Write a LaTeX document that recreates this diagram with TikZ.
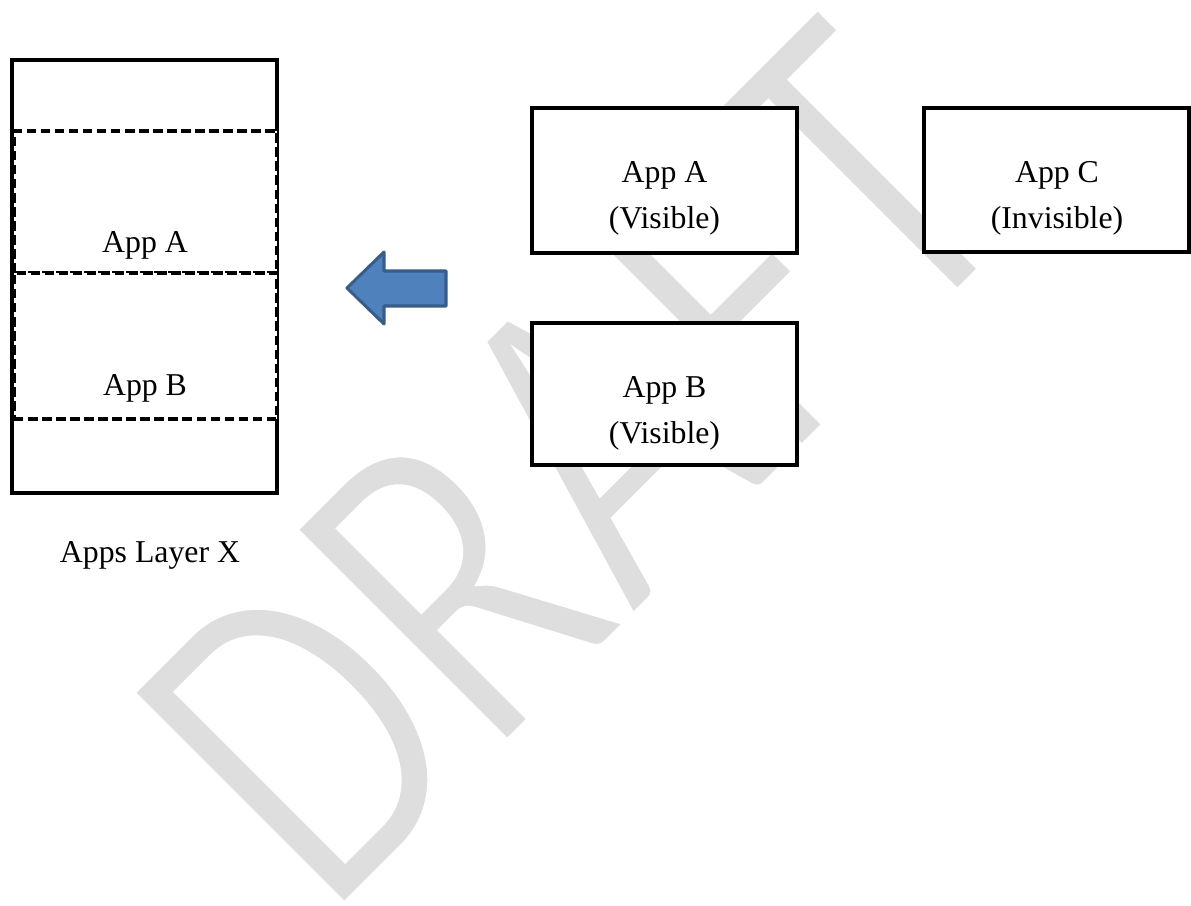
\documentclass[tikz,border=0pt]{standalone}
\usepackage{fontspec}
\usepackage{graphicx}
\setmainfont{Liberation Serif}
\newfontfamily\wmfont{Carlito}
\definecolor{wmgray}{RGB}{222,222,222}
\definecolor{arrowfill}{RGB}{79,129,189}
\definecolor{arrowline}{RGB}{56,93,138}
\begin{document}
\begin{tikzpicture}[x=0.3774pt, y=-0.3774pt,
  txt/.style={inner sep=0pt, outer sep=0pt, font=\fontsize{12}{17.4}\selectfont, align=center},
  appbox/.style={draw=black, line width=1.5pt, fill=white, minimum width=100pt, inner sep=0pt, line join=miter},
  layerbox/.style={draw=black, line width=1.4pt, fill=white, inner sep=0pt},
  slotbox/.style={draw=black, line width=1.35pt, fill=white, inner sep=0pt, dash pattern=on 3.6pt off 1.7pt},
  blockarrow/.style={fill=arrowfill, draw=arrowline, line width=1.15pt, line join=round}]
\useasboundingbox (0,0) rectangle (1191,906);
\fill[white] (0,0) rectangle (1191,906);
% watermark
\begin{scope}
\clip (0,0) rectangle (1191,906);
\node[anchor=base west, inner sep=0pt, outer sep=0pt, rotate=45, text=wmgray,
      font=\wmfont\fontsize{178}{178}\selectfont] (wm) at (327,924)
      {\special{pdf:literal direct 2 Tr 1 1 1 RG 3.2 w}\scalebox{0.79}[1]{DRAFT}\special{pdf:literal direct 0 Tr}};
\end{scope}
% left layer box
\node[layerbox, minimum width=100pt, minimum height=163.4pt] (layer) at (144.5,276.5) {};
\node[slotbox, minimum width=99.3pt, minimum height=53.6pt] (slotA) at (145.5,202) {};
\node[slotbox, minimum width=99.3pt, minimum height=55.1pt] (slotB) at (145.5,346) {};
\node[txt] (slotAtext) at (145,245.5) {App A};
\node[txt] (slotBtext) at (145,388.5) {App B};
\node[txt] (layerlabel) at (150,555.5) {Apps Layer X};
% arrow
\draw[blockarrow] (347,288) -- (384,252) -- (384,271) -- (446,271) -- (446,306) -- (384,306) -- (384,324) -- cycle;
% right boxes
\node[appbox, minimum height=54.7pt] (boxA) at (664.5,180.5) {};
\node[appbox, minimum height=53.6pt] (boxB) at (664.5,394) {};
\node[appbox, minimum height=54.3pt] (boxC) at (1056.5,180) {};
\node[txt] (boxAtext) at (664.5,198.5) {App A\\(Visible)};
\node[txt] (boxBtext) at (664.5,413) {App B\\(Visible)};
\node[txt] (boxCtext) at (1057,198.5) {App C\\(Invisible)};
\end{tikzpicture}
\end{document}
